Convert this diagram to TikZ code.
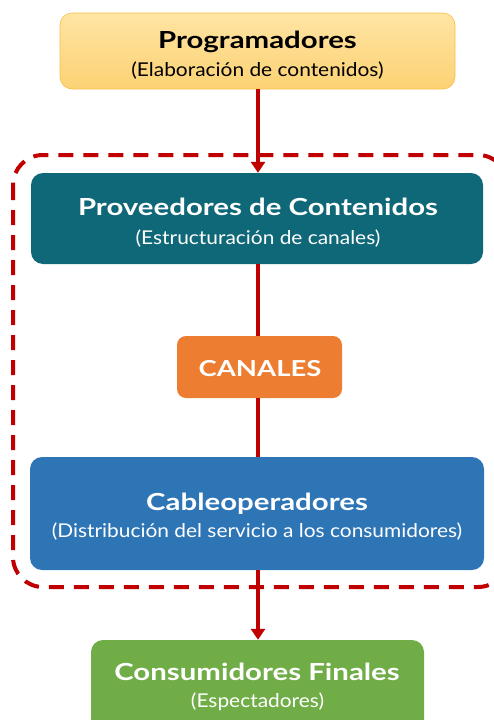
\documentclass[tikz,border=0pt]{standalone}
\usepackage{fontspec}
\setmainfont{Lato}
\newfontfamily\ttlfont[FakeStretch=1.25]{Lato Bold}
\newfontfamily\subfont[FakeStretch=1.1]{Lato}
\usetikzlibrary{arrows.meta}
\definecolor{redc}{HTML}{C00000}
\definecolor{tealc}{HTML}{0F6878}
\definecolor{orangec}{HTML}{ED7D31}
\definecolor{bluec}{HTML}{2E75B6}
\definecolor{greenc}{HTML}{70AD47}
\definecolor{yelltop}{HTML}{FFE4A3}
\definecolor{yellbot}{HTML}{FCD274}
\definecolor{yellbord}{HTML}{F4C14A}
\begin{document}
\begin{tikzpicture}[x=1pt,y=-1pt,
  box/.style={rounded corners=12pt, inner sep=0pt},
  ttl/.style={anchor=base, inner sep=0pt, font=\ttlfont\fontsize{23.5}{23.5}\selectfont},
  sub/.style={anchor=base, inner sep=0pt, font=\subfont\fontsize{19}{19}\selectfont},
  conn/.style={draw=redc, line width=3.5pt},
  arr/.style={conn, -{Triangle[width=14pt,length=11pt]}}]
\useasboundingbox (0,0) rectangle (494,720);
\clip (0,0) rectangle (494,720);
% dashed group
\draw[redc, line width=4pt, dash pattern=on 15pt off 10pt, rounded corners=30pt]
  (13,155) rectangle (508,587);
% boxes
\node[box, draw=yellbord, line width=0.6pt, top color=yelltop, bottom color=yellbot,
  minimum width=395pt, minimum height=76pt] (prog) at (257.5,51) {};
\node[box, fill=tealc, minimum width=452pt, minimum height=91pt] (prov) at (257,218.5) {};
\node[box, fill=orangec, minimum width=165pt, minimum height=62pt, rounded corners=9pt] (can) at (259.5,367) {};
\node[box, fill=bluec, minimum width=454pt, minimum height=113pt] (cab) at (257,513.5) {};
\node[box, fill=greenc, minimum width=333pt, minimum height=100pt] (cons) at (257.5,690) {};
% texts
\node[ttl, text=black] (progt) at (257.5,48.3) {Programadores};
\node[sub, text=black] (progs) at (257.5,76) {(Elaboración de contenidos)};
\node[ttl, text=white] (provt) at (258,215) {Proveedores de Contenidos};
\node[sub, text=white] (provs) at (258,244) {(Estructuración de canales)};
\node[ttl, text=white, font=\ttlfont\fontsize{22}{22}\selectfont] (cant) at (260,376.7) {CANALES};
\node[ttl, text=white] (cabt) at (257,510.7) {Cableoperadores};
\node[sub, text=white] (cabs) at (257,537) {(Distribución del servicio a los consumidores)};
\node[ttl, text=white] (const) at (257,680.7) {Consumidores Finales};
\node[sub, text=white] (conss) at (257.5,707) {(Espectadores)};
% connectors
\draw[arr] (prog.south -| 258,0) -- (prov.north -| 258,0);
\draw[conn] (prov.south -| 258,0) -- (can.north -| 258,0);
\draw[conn] (can.south -| 258,0) -- (cab.north -| 258,0);
\draw[arr] (cab.south -| 258,0) -- (cons.north -| 258,0);
\end{tikzpicture}
\end{document}
